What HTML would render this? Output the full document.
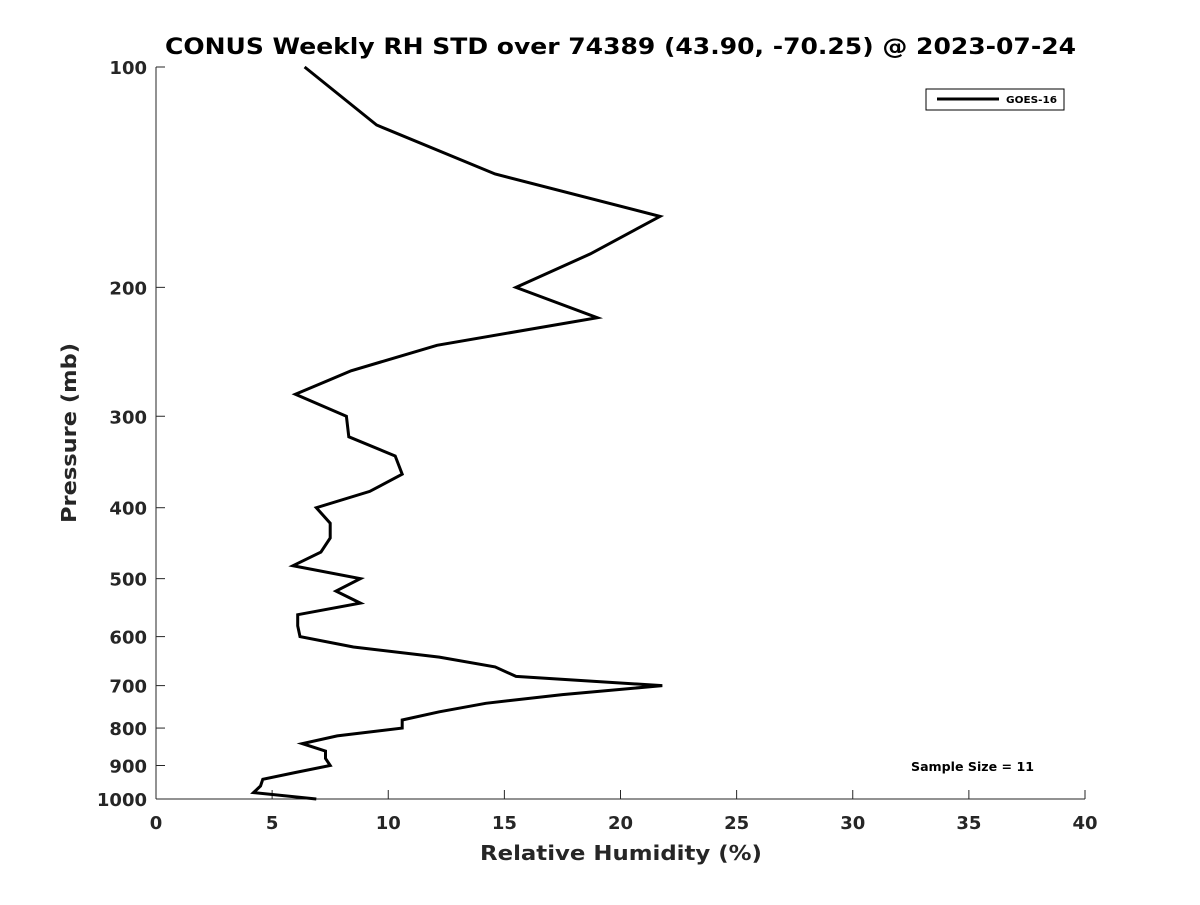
<!DOCTYPE html>
<html><head><meta charset="utf-8"><style>
body{margin:0;background:#fff;}
svg{font-family:"DejaVu Sans","Liberation Sans",sans-serif;}
</style></head><body>
<svg id="chart" width="1200" height="900" xmlns="http://www.w3.org/2000/svg">
<rect width="1200" height="900" fill="#fff"/>
<text x="165" y="54" font-size="22" font-weight="bold" textLength="911" lengthAdjust="spacingAndGlyphs">CONUS Weekly RH STD over 74389 (43.90, -70.25) @ 2023-07-24</text>
<g id="axes"></g>
<g id="series"></g>
<text x="480" y="860" font-size="20" font-weight="bold" fill="#262626" textLength="282" lengthAdjust="spacingAndGlyphs">Relative Humidity (%)</text>
<text transform="translate(76,523) rotate(-90)" font-size="20" font-weight="bold" fill="#262626" textLength="180" lengthAdjust="spacingAndGlyphs">Pressure (mb)</text>
<g>
<rect x="926" y="89" width="138" height="21" fill="#fff" stroke="#000" stroke-width="1"/>
<line x1="937" y1="99" x2="999" y2="99" stroke="#000" stroke-width="3"/>
<text x="1006" y="103" font-size="10" font-weight="bold" textLength="51" lengthAdjust="spacingAndGlyphs">GOES-16</text>
</g>
<text x="911" y="771" font-size="12" font-weight="bold" textLength="123" lengthAdjust="spacingAndGlyphs">Sample Size = 11</text>
</svg>
<script>
const pressures=[100,120,140,160,180,200,220,240,260,280,300,320,340,360,380,400,420,440,460,480,500,520,540,560,580,600,620,640,660,680,700,720,740,760,780,800,820,840,860,880,900,920,940,960,980,1000];
const rhStd=[6.4,9.5,14.6,21.7,18.7,15.5,19.0,12.1,8.4,6.0,8.2,8.3,10.3,10.6,9.2,6.9,7.5,7.5,7.1,5.9,8.8,7.75,8.8,6.1,6.1,6.2,8.5,12.2,14.6,15.5,21.8,17.5,14.2,12.2,10.6,10.6,7.8,6.3,7.3,7.3,7.5,6.0,4.6,4.5,4.2,6.9];
const xTicks=[0,5,10,15,20,25,30,35,40];
const yTicks=[100,200,300,400,500,600,700,800,900,1000];
const X0=156,X1=1085,Y0=67,Y1=799;
const xs=v=>X0+(v-0)/40*(X1-X0);
const ys=p=>Y0+(Math.log10(p)-2)*(Y1-Y0);
const NS="http://www.w3.org/2000/svg";
const ax=document.getElementById('axes');
function mk(t,a,parent){const e=document.createElementNS(NS,t);for(const k in a)e.setAttribute(k,a[k]);parent.appendChild(e);return e;}
const xl=mk('line',{x1:X0,y1:Y1,x2:X1,y2:Y1,stroke:'#262626','stroke-width':1},ax);


const yl=mk('line',{x1:X0,y1:Y0,x2:X0,y2:Y1,stroke:'#262626','stroke-width':1},ax);


xTicks.forEach(v=>{
 mk('line',{x1:xs(v),y1:Y1,x2:xs(v),y2:Y1-9,stroke:'#262626'},ax);
 const t=mk('text',{x:xs(v),y:Y1+30,'font-size':18,'font-weight':'bold',fill:'#262626','text-anchor':'middle'},ax);
 t.textContent=v;
 
 
});
yTicks.forEach(p=>{
 mk('line',{x1:X0,y1:ys(p),x2:X0+9,y2:ys(p),stroke:'#262626'},ax);
 const t=mk('text',{x:X0-9,y:ys(p)+7,'font-size':18,'font-weight':'bold',fill:'#262626','text-anchor':'end'},ax);
 t.textContent=p;
 
 
});
const pts=pressures.map((p,i)=>xs(rhStd[i]).toFixed(1)+','+ys(p).toFixed(1)).join(' ');
const line=mk('polyline',{points:pts,fill:'none',stroke:'#000','stroke-width':3,'stroke-linejoin':'miter'},document.getElementById('series'));


</script>
</body></html>
